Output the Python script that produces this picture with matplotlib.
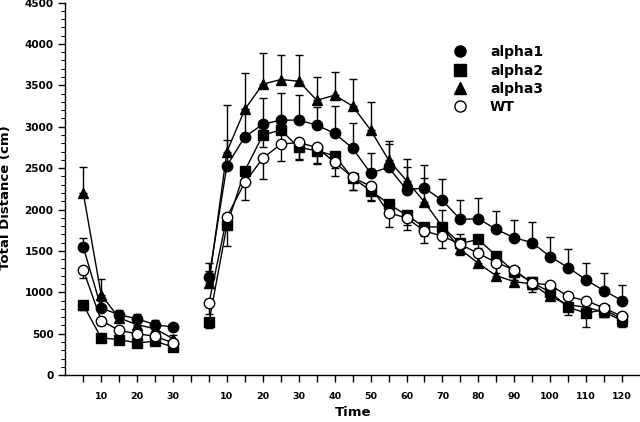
import numpy as np
import matplotlib.pyplot as plt
from matplotlib.lines import Line2D

plt.rcParams['font.family'] = ['DejaVu Sans']
plt.rcParams['font.weight'] = 'bold'

# first session (0-30 min) and second session (5-120 min)
times1 = [5, 10, 15, 20, 25, 30]
times2 = list(range(5, 125, 5))

alpha1_1 = [1550, 810, 730, 680, 610, 580]
alpha1_1_err = [110, 80, 60, 60, 60, 40]
alpha2_1 = [850, 450, 430, 390, 410, 340]
alpha2_1_err = [60, 40, 40, 40, 40, 40]
alpha3_1 = [2200, 970, 690, 610, 560, 440]
alpha3_1_err = [310, 190, 80, 70, 60, 50]
wt_1 = [1270, 660, 540, 500, 470, 390]
wt_1_err = [100, 60, 60, 50, 50, 40]

alpha1_2 = [1180, 2530, 2880, 3030, 3080, 3080, 3020, 2920, 2740, 2440, 2510, 2240,
            2260, 2110, 1880, 1890, 1760, 1660, 1600, 1430, 1300, 1150, 1020, 900]
alpha1_2_err = [170, 310, 330, 320, 330, 300, 220, 330, 300, 245, 280, 270,
                275, 260, 240, 245, 220, 215, 250, 240, 225, 205, 215, 190]
alpha2_2 = [640, 1810, 2470, 2900, 2960, 2750, 2710, 2650, 2380, 2230, 2070, 1930,
            1790, 1790, 1590, 1640, 1440, 1250, 1120, 1000, 820, 750, 790, 680]
alpha2_2_err = [70, 250, 150, 150, 150, 150, 150, 150, 140, 130, 120, 120,
                110, 120, 110, 110, 100, 100, 80, 90, 90, 170, 90, 100]
alpha3_2 = [1110, 2700, 3210, 3515, 3570, 3550, 3320, 3380, 3250, 2960, 2600, 2350,
            2090, 1790, 1520, 1350, 1200, 1130, 1100, 950, 850, 820, 760, 660]
alpha3_2_err = [150, 560, 435, 375, 295, 315, 282, 282, 322, 342, 230, 255,
                290, 200, 180, 150, 140, 60, 80, 90, 100, 80, 80, 80]
wt_2 = [870, 1910, 2330, 2620, 2790, 2810, 2750, 2570, 2390, 2280, 1960, 1900,
        1740, 1680, 1580, 1470, 1360, 1270, 1110, 1090, 950, 900, 810, 710]
wt_2_err = [130, 150, 210, 250, 200, 200, 200, 170, 150, 160, 170, 150,
            150, 140, 130, 140, 130, 120, 110, 100, 100, 100, 90, 80]

labels = ['alpha1', 'alpha2', 'alpha3', 'WT']
markers = ['o', 's', '^', 'o']
faces = ['black', 'black', 'black', 'white']
upper = [True, False, True, False]   # one-sided error bars
seg1 = [(alpha1_1, alpha1_1_err), (alpha2_1, alpha2_1_err), (alpha3_1, alpha3_1_err), (wt_1, wt_1_err)]
seg2 = [(alpha1_2, alpha1_2_err), (alpha2_2, alpha2_2_err), (alpha3_2, alpha3_2_err), (wt_2, wt_2_err)]

offset = 35  # second session is drawn after a gap on the same axis
x1 = np.array(times1)
x2 = np.array(times2) + offset

fig = plt.figure(figsize=(6.4, 4.22), dpi=100)
ax = fig.add_axes([0.102, 0.111, 0.898, 0.883])

for i in range(4):
    for xs, (ys, es) in ((x1, seg1[i]), (x2, seg2[i])):
        zero = np.zeros(len(es))
        yerr = [zero, es] if upper[i] else [es, zero]
        ax.errorbar(xs, ys, yerr=yerr, color='black', lw=1.0, elinewidth=1.0,
                    capsize=3, capthick=1.0, marker=markers[i], ms=7.5,
                    mfc=faces[i], mec='black', mew=1.0, zorder=3 + i)

ax.set_xlim(0, 160)
ax.set_ylim(0, 4500)

tick_pos = np.arange(5, 160, 5)
ax.set_xticks(tick_pos)
tick_lab = []
for p in tick_pos:
    if p <= 30 and p % 10 == 0:
        tick_lab.append(str(p))
    elif p > offset and (p - offset) % 10 == 0:
        tick_lab.append(str(p - offset))
    else:
        tick_lab.append('')
ax.set_xticklabels(tick_lab, fontsize=6.8, fontweight='bold')

ax.set_yticks(np.arange(0, 4501, 500))
ax.set_yticks(np.arange(0, 4501, 100), minor=True)
ax.tick_params(axis='y', labelsize=7.5, length=5, width=1, direction='out')
ax.tick_params(axis='y', which='minor', length=3, width=0.8)
ax.tick_params(axis='x', length=5, width=1, direction='out', pad=7)
for t in ax.get_yticklabels():
    t.set_fontweight('bold')

for s in ['top', 'right']:
    ax.spines[s].set_visible(False)
for s in ['left', 'bottom']:
    ax.spines[s].set_linewidth(1.0)

ax.set_xlabel('Time', fontsize=9.5, fontweight='bold', labelpad=4)
ax.set_ylabel('Total Distance (cm)', fontsize=9.5, fontweight='bold', labelpad=9)
ax.yaxis.set_label_coords(-0.092, 0.476)

handles = [Line2D([], [], ls='none', marker=markers[i], ms=8, mfc=faces[i], mec='black')
           for i in range(4)]
ax.legend(handles, labels, loc='upper left', bbox_to_anchor=(0.665, 0.9),
          frameon=False, prop={'weight': 'bold', 'size': 10},
          handlelength=1, handletextpad=1.66, labelspacing=0.3, borderaxespad=0)

fig.savefig('out.png', dpi=100)
